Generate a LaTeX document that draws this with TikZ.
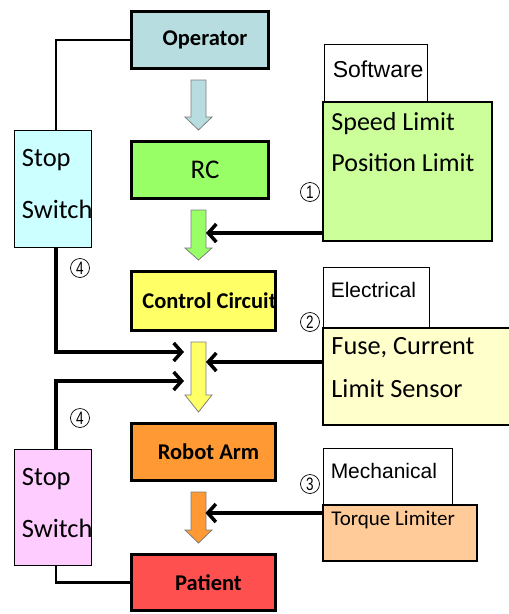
\documentclass[tikz,border=0pt]{standalone}
\usepackage{fontspec}
\setmainfont{Carlito}
\newfontfamily\labelfont{Liberation Sans}
\usetikzlibrary{arrows.meta,shapes.geometric,calc}

\definecolor{opfill}{HTML}{B7DDE0}
\definecolor{rcfill}{HTML}{99FF66}
\definecolor{ccfill}{HTML}{FFFF66}
\definecolor{rafill}{HTML}{FF9933}
\definecolor{ptfill}{HTML}{FF5050}
\definecolor{stopA}{HTML}{CCFFFF}
\definecolor{stopB}{HTML}{FFCCFF}
\definecolor{swfill}{HTML}{CCFF99}
\definecolor{elfill}{HTML}{FFFFCC}
\definecolor{mefill}{HTML}{FFCC99}
\definecolor{arrowedge}{HTML}{7F7F7F}

% vertical block arrow from the box above to the box below
\newcommand\blkarrow[4]{%
  \path ($(axis |- #2.south)+(0,10)$) coordinate (ba-top)
        ($(axis |- #3.north)+(0,-10)$) coordinate (ba-tip);
  \draw[blockarrow,fill=#1] let \p1=(ba-top), \p2=(ba-tip) in
    (\x1-7.5pt,\y1) -- (\x1+7.5pt,\y1) -- (\x1+7.5pt,\y2+#4) --
    (\x1+13.5pt,\y2+#4) -- (\x2,\y2) -- (\x1-13.5pt,\y2+#4) --
    (\x1-7.5pt,\y2+#4) -- cycle;
}

\begin{document}
\begin{tikzpicture}[x=1pt,y=-1pt,
  mainbox/.style={draw=black,line width=3pt,inner sep=0pt},
  boxtext/.style={font=\bfseries\fontsize{22.5}{26}\selectfont,inner sep=0pt},
  stopbox/.style={draw=black,line width=1.5pt,inner sep=0pt,minimum width=77pt},
  sidebox/.style={draw=black,line width=1.5pt,inner sep=0pt},
  tabbox/.style={draw=black,line width=0.9pt,fill=white,inner sep=0pt},
  bodytext/.style={anchor=west,inner sep=0pt,font=\fontsize{26}{30}\selectfont},
  tabtext/.style={anchor=west,inner sep=0pt,font=\labelfont\fontsize{21}{25}\selectfont},
  numcirc/.style={circle,draw=black,line width=0.7pt,inner sep=0pt,
    minimum size=19pt,font=\labelfont\fontsize{18}{20}\selectfont},
  blockarrow/.style={draw=arrowedge,line width=0.8pt},
  conn/.style={line width=3.5pt,-{Straight Barb[length=8pt,width=18pt]}},
  wire/.style={line width=2.5pt}]

\useasboundingbox (0,0) rectangle (509,614);
\fill[white] (0,0) rectangle (509,614);
\coordinate (axis) at (198.5,0);

% main chain of boxes
\node[mainbox,fill=opfill,minimum width=137pt,minimum height=57pt,
  label={[boxtext,xshift=5pt]center:Operator}] (op) at (200,40) {};
\node[mainbox,fill=rcfill,minimum width=137pt,minimum height=57pt,
  label={[boxtext,font=\fontsize{27}{30}\selectfont,xshift=5pt]center:RC}] (rc) at (200,170) {};
\node[mainbox,fill=ccfill,minimum width=144pt,minimum height=59pt,
  label={[boxtext,xshift=6pt]center:Control Circuit}] (cc) at (203.5,301) {};
\node[mainbox,fill=rafill,minimum width=144pt,minimum height=57pt,
  label={[boxtext,xshift=5pt]center:Robot Arm}] (ra) at (203.5,452) {};
\node[mainbox,fill=ptfill,minimum width=144pt,minimum height=56pt,
  label={[boxtext,xshift=5pt]center:Patient}] (pt) at (203.5,582.5) {};

% block arrows between the boxes
\blkarrow{opfill}{op}{rc}{13pt}
\blkarrow{rcfill}{rc}{cc}{12pt}
\blkarrow{ccfill}{cc}{ra}{17pt}
\blkarrow{rafill}{ra}{pt}{13pt}

% stop switches
\node[stopbox,fill=stopA,minimum height=117pt] (ss1) at (53,189) {};
\node[bodytext,font=\fontsize{26.5}{30}\selectfont] at ([shift={(8,30)}]ss1.north west) {Stop};
\node[bodytext,font=\fontsize{26.5}{30}\selectfont] at ([shift={(8,80)}]ss1.north west) {Switch};
\node[stopbox,fill=stopB,minimum height=116pt] (ss2) at (53,507.5) {};
\node[bodytext,font=\fontsize{26.5}{30}\selectfont] at ([shift={(8,30)}]ss2.north west) {Stop};
\node[bodytext,font=\fontsize{26.5}{30}\selectfont] at ([shift={(8,80)}]ss2.north west) {Switch};

% software safeguard
\node[tabbox,minimum width=103pt,minimum height=58pt] (swl) at (375.5,73) {};
\node[tabtext,font=\labelfont\fontsize{23}{26}\selectfont] at ([shift={(9,26)}]swl.north west) {Software};
\node[sidebox,fill=swfill,minimum width=169pt,minimum height=139pt] (swb) at (407.5,171.5) {};
\node[bodytext] at ([shift={(9,22)}]swb.north west) {Speed Limit};
\node[bodytext] at ([shift={(9,61)}]swb.north west) {Position Limit};

% electrical safeguard
\node[tabbox,minimum width=106pt,minimum height=61pt] (ell) at (376,297.5) {};
\node[tabtext] at ([shift={(8,23)}]ell.north west) {Electrical};
\node[sidebox,fill=elfill,minimum width=188pt,minimum height=97pt] (elb) at (417,376.5) {};
\node[bodytext,font=\fontsize{26.3}{30}\selectfont] at ([shift={(9,20)}]elb.north west) {Fuse, Current};
\node[bodytext,font=\fontsize{26.3}{30}\selectfont] at ([shift={(9,61)}]elb.north west) {Limit Sensor};

% mechanical safeguard
\node[tabbox,minimum width=129pt,minimum height=56pt] (mel) at (387.5,476) {};
\node[tabtext] at ([shift={(8,23)}]mel.north west) {Mechanical};
\node[sidebox,fill=mefill,minimum width=154pt,minimum height=56pt] (meb) at (400,533) {};
\node[bodytext,font=\fontsize{21}{24}\selectfont] at ([shift={(9,16)}]meb.north west) {Torque Limiter};

% entry points on the block arrows
\coordinate (in1) at (206,233);
\coordinate (in2) at (206,362);
\coordinate (in3) at (205.5,513);
\coordinate (st1) at (184,352);
\coordinate (st2) at (184,381);

% safeguard connectors
\draw[conn] (swb.west |- in1) -- (in1);
\draw[conn] (elb.west |- in2) -- (in2);
\draw[conn] (meb.west |- in3) -- (in3);

% stop switch wiring
\draw[wire] ([xshift=3pt]ss1.north) |- (op.west);
\draw[conn] ([xshift=3pt]ss1.south) |- (st1);
\draw[conn] ([xshift=3pt]ss2.north) |- (st2);
\draw[wire] ([xshift=3pt]ss2.south) |- (pt.west);

% numbered markers
\node[numcirc] (n1) at (310,192) {\scalebox{0.75}[1]{1}};
\node[numcirc] (n2) at (310,322) {\scalebox{0.75}[1]{2}};
\node[numcirc] (n3) at (310,484) {\scalebox{0.75}[1]{3}};
\node[numcirc] (n4a) at (80,268) {\scalebox{0.75}[1]{4}};
\node[numcirc] (n4b) at (80,418) {\scalebox{0.75}[1]{4}};
\end{tikzpicture}
\end{document}
